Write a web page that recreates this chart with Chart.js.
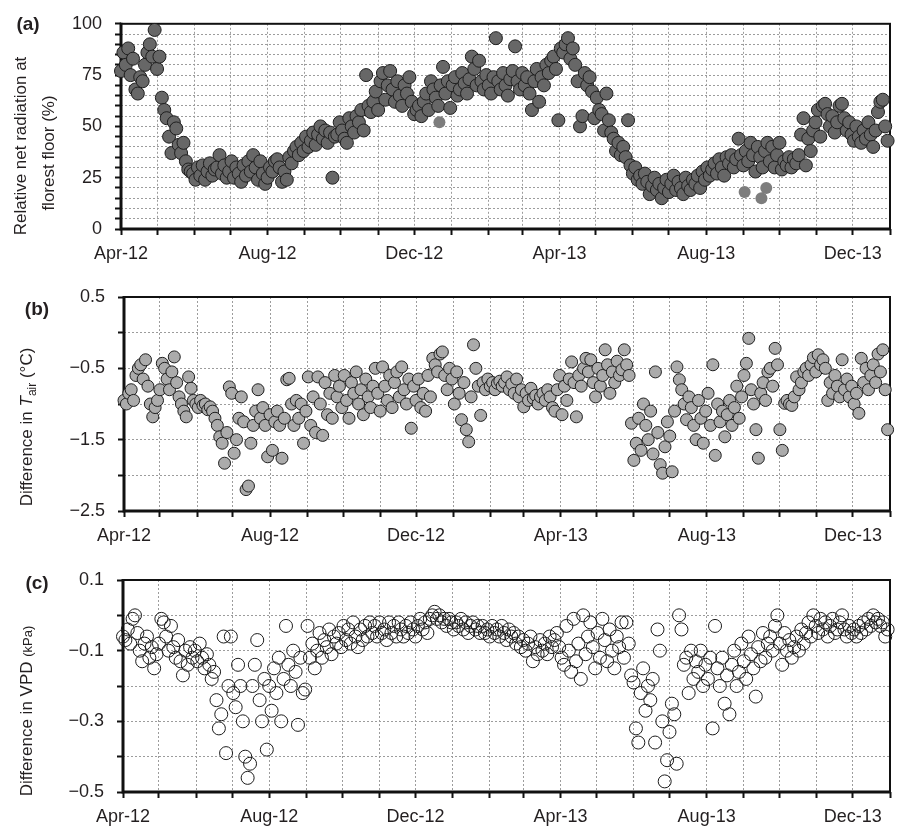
<!DOCTYPE html>
<html>
<head>
<meta charset="utf-8">
<script src="https://cdn.jsdelivr.net/npm/chart.js@4.4.0/dist/chart.umd.min.js"></script>
<style>
  body { margin: 0; background: #fff; width: 901px; height: 831px; position: relative; overflow: hidden; }
  canvas { position: absolute; left: 0; }
</style>
</head>
<body>
<canvas id="chartA" width="901" height="272" style="top:0px"></canvas>
<canvas id="chartB" width="901" height="278" style="top:272px"></canvas>
<canvas id="chartC" width="901" height="281" style="top:550px"></canvas>
<script>
// daily series sampled every 2 days from 1 Apr 2012
const startDate = Date.UTC(2012, 3, 1);
const stepDays = 2;
const monthNames = ['Jan', 'Feb', 'Mar', 'Apr', 'May', 'Jun', 'Jul', 'Aug', 'Sep', 'Oct', 'Nov', 'Dec'];
const xTickLabels = ['Apr-12', 'Aug-12', 'Dec-12', 'Apr-13', 'Aug-13', 'Dec-13'];

const radTickLabels = [0, 25, 50, 75, 100];
const tairTickLabels = [0.5, -0.5, -1.5, -2.5];
const vpdTickLabels = [0.1, -0.1, -0.3, -0.5];

// (a) relative net radiation at forest floor (%)
const radiation = [
  77, 86, 80, 88, 75, 83, 68, 66, 74, 72, 80, 86, 90, 84, 97,
  78, 84, 64, 58, 54, 45, 37, 52, 49, 41, 37, 42, 33, 29, 28,
  27, 24, 30, 26, 31, 24, 28, 32, 26, 29, 30, 36, 27, 31, 25,
  28, 33, 25, 30, 27, 23, 31, 26, 33, 28, 36, 30, 24, 33, 27,
  22, 25, 30, 28, 33, 34, 30, 23, 28, 24, 35, 32, 38, 40, 36,
  42, 38, 45, 40, 43, 47, 41, 46, 50, 44, 48, 42, 47, 25, 45,
  46, 52, 48, 44, 42, 54, 50, 47, 55, 52, 58, 48, 75, 60, 57,
  62, 67, 58, 72, 76, 63, 70, 77, 68, 62, 72, 65, 60, 70, 66,
  74, 62, 56, 58, 60, 55, 62, 66, 58, 72, 68, 64, 60, 70, 79,
  66, 72, 59, 70, 74, 65, 68, 76, 71, 66, 73, 84, 78, 70, 82,
  72, 68, 75, 70, 66, 74, 93, 72, 68, 76, 70, 65, 73, 77, 89,
  72, 68, 76, 70, 74, 66, 58, 72, 78, 62, 74, 70, 80, 76, 82,
  84, 78, 53, 88, 86, 90, 93, 83, 88, 80, 72, 50, 55, 76, 70,
  74, 67, 54, 64, 58, 56, 48, 66, 53, 47, 44, 38, 42, 36, 40,
  35, 53, 31, 27, 30, 24, 26, 22, 27, 23, 17, 21, 25, 19, 22,
  15, 20, 24, 18, 22, 26, 19, 23, 20, 17, 25, 21, 19, 24, 22,
  26, 20, 28, 24, 30, 26, 29, 32, 27, 34, 30, 26, 35, 32, 36,
  30, 34, 44, 36, 31, 38, 33, 42, 36, 28, 40, 35, 30, 38, 42,
  33, 40, 30, 36, 42, 29, 33, 31, 35, 30, 34, 32, 36, 46, 54,
  31, 44, 38, 48, 52, 58, 45, 60, 61, 56, 50, 55, 47, 52, 60,
  61, 54, 48, 52, 46, 43, 50, 45, 42, 48, 44, 52, 46, 40, 48, 57, 62, 63, 50, 43
];
// lighter points in (a): day offsets and values
const radiationLightDays = [265, 519, 533, 537];
const radiationLight = [52, 18, 15, 20];

// (b) difference in air temperature (°C)
const tairDiff = [
  -0.95, -1.0, -0.85, -0.8, -0.95, -0.6, -0.5, -0.45, -0.65, -0.38, -0.75, -1.0, -1.18, -1.05, -0.95,
  -0.8, -0.43, -0.5, -0.65, -0.8, -0.55, -0.34, -0.7, -0.9, -1.0, -1.1, -1.18, -0.62, -0.78, -0.95,
  -1.0, -1.05, -0.95, -1.02, -1.0, -1.08, -1.04, -1.1, -1.2, -1.3, -1.46, -1.55, -1.83, -1.4, -0.76,
  -0.85, -1.69, -1.5, -1.2, -0.9, -1.25, -2.2, -2.15, -1.55, -1.3, -1.1, -0.8, -1.2, -1.05, -1.3,
  -1.74, -1.15, -1.65, -1.25, -1.1, -1.3, -1.76, -1.2, -0.66, -0.64, -1.0, -1.3, -0.95, -1.2, -1.0,
  -1.55, -1.1, -0.62, -1.3, -0.9, -1.4, -0.62, -1.0, -1.44, -0.7, -1.15, -0.85, -1.2, -0.6, -0.9,
  -0.75, -1.05, -0.6, -0.95, -1.2, -0.7, -0.85, -0.55, -1.0, -0.8, -1.15, -0.65, -0.9, -1.05, -0.75,
  -0.5, -0.85, -1.1, -0.48, -0.75, -0.95, -0.6, -1.05, -0.7, -0.55, -0.9, -0.48, -0.8, -1.0, -0.65,
  -1.34, -0.75, -0.95, -0.65, -1.05, -0.85, -1.1, -0.6, -0.9, -0.36, -0.45, -0.55, -0.3, -0.27, -0.6,
  -0.8, -0.5, -0.65, -1.0, -0.55, -0.85, -1.22, -0.7, -1.36, -1.53, -0.9, -0.17, -0.5, -0.75, -1.16,
  -0.7, -0.8, -0.65, -0.75, -0.7, -0.8, -0.71, -0.68, -0.75, -0.7, -0.62, -0.8, -0.72, -0.85, -0.65,
  -0.9, -0.8, -1.04, -0.85, -0.95, -0.78, -0.92, -0.88, -1.0, -0.9, -0.85, -0.95, -0.8, -0.9, -1.05,
  -1.1, -0.8, -0.6, -1.15, -0.75, -0.95, -0.65, -0.41, -0.7, -1.18, -0.6, -0.75, -0.5, -0.36, -0.55,
  -0.38, -0.7, -0.9, -0.5, -0.75, -0.6, -0.24, -0.45, -0.85, -0.55, -0.7, -0.4, -0.6, -0.52, -0.24,
  -0.45, -0.6, -1.27, -1.79, -1.55, -1.2, -1.65, -1.0, -1.3, -1.5, -1.1, -1.7, -0.55, -1.4, -1.85,
  -1.97, -1.6, -1.25, -1.45, -1.95, -1.1, -0.48, -0.66, -0.8, -1.0, -1.22, -0.9, -1.05, -1.3, -1.5,
  -0.95, -1.2, -1.55, -1.1, -0.85, -1.3, -0.45, -1.72, -1.0, -1.25, -1.1, -1.46, -1.15, -0.95, -1.3,
  -1.05, -0.75, -1.2, -0.9, -0.6, -0.43, -0.08, -0.8, -1.0, -1.36, -1.76, -0.85, -0.7, -0.95, -0.55,
  -0.5, -0.75, -0.22, -0.45, -1.36, -1.65, -0.99, -0.95, -1.0, -1.02, -0.9, -0.62, -0.8, -0.7, -0.55,
  -0.5, -0.6, -0.45, -0.35, -0.55, -0.31, -0.45, -0.38, -0.5, -0.95, -0.7, -0.85, -0.6, -0.75, -0.9,
  -0.38, -0.8, -0.65, -0.9, -0.75, -1.0, -0.85, -1.13, -0.36, -0.7, -0.5, -0.8, -0.6, -0.45, -0.7, -0.3, -0.55, -0.24, -0.8, -1.36
];

// (c) difference in vapour pressure deficit (kPa)
const vpdDiff = [
  -0.06, -0.07, -0.04, -0.08, -0.01, 0.0, -0.05, -0.1, -0.13, -0.08, -0.06, -0.12, -0.09, -0.15, -0.11,
  -0.08, -0.01, -0.02, -0.06, -0.1, -0.03, -0.09, -0.12, -0.07, -0.13, -0.17, -0.1, -0.14, -0.09, -0.12,
  -0.1, -0.13, -0.08, -0.12, -0.15, -0.11, -0.14, -0.18, -0.16, -0.24, -0.32, -0.28, -0.06, -0.39, -0.2,
  -0.06, -0.22, -0.26, -0.14, -0.2, -0.3, -0.4, -0.46, -0.42, -0.2, -0.14, -0.07, -0.24, -0.3, -0.18,
  -0.38, -0.2, -0.27, -0.15, -0.22, -0.12, -0.3, -0.18, -0.03, -0.14, -0.2, -0.1, -0.16, -0.31, -0.12,
  -0.22, -0.21, -0.03, -0.12, -0.08, -0.15, -0.1, -0.05, -0.12, -0.07, -0.09, -0.04, -0.11, -0.06, -0.08,
  -0.05, -0.09, -0.03, -0.07, -0.04, -0.08, -0.02, -0.06, -0.09, -0.04, -0.07, -0.03, -0.06, -0.02, -0.05,
  -0.03, -0.06, -0.02, -0.05, -0.04, -0.07, -0.02, -0.05, -0.03, -0.06, -0.02, -0.04, -0.06, -0.03, -0.05,
  -0.02, -0.04, -0.06, -0.03, -0.01, -0.04, -0.02, -0.05, -0.01, 0.0, 0.01, -0.01, 0.0, -0.02, -0.01,
  -0.03, -0.01, -0.02, -0.04, -0.02, -0.03, -0.01, -0.04, -0.02, -0.05, -0.03, -0.02, -0.04, -0.03, -0.05,
  -0.03, -0.05, -0.04, -0.06, -0.03, -0.05, -0.04, -0.06, -0.03, -0.05, -0.07, -0.04, -0.06, -0.05, -0.08,
  -0.06, -0.09, -0.07, -0.1, -0.08, -0.06, -0.13, -0.09, -0.11, -0.07, -0.1, -0.08, -0.11, -0.06, -0.09,
  -0.07, -0.05, -0.09, -0.12, -0.14, -0.03, -0.1, -0.16, -0.01, -0.13, -0.08, -0.18, 0.0, -0.11, -0.06,
  -0.02, -0.09, -0.15, -0.05, -0.12, -0.01, -0.07, -0.13, -0.04, -0.1, -0.15, -0.06, -0.09, -0.02, -0.12,
  -0.02, -0.08, -0.17, -0.19, -0.32, -0.36, -0.22, -0.15, -0.27, -0.2, -0.24, -0.18, -0.36, -0.04, -0.1,
  -0.3, -0.47, -0.41, -0.33, -0.25, -0.28, -0.42, 0.0, -0.04, -0.14, -0.12, -0.22, -0.1, -0.18, -0.13,
  -0.16, -0.1, -0.2, -0.14, -0.18, -0.12, -0.32, -0.03, -0.15, -0.2, -0.12, -0.25, -0.17, -0.28, -0.14,
  -0.1, -0.2, -0.16, -0.08, -0.13, -0.18, -0.06, -0.11, -0.15, -0.23, -0.09, -0.13, -0.05, -0.12, -0.08,
  -0.06, -0.1, -0.03, 0.0, -0.08, -0.14, -0.05, -0.1, -0.07, -0.12, -0.09, -0.06, -0.1, -0.04, -0.08,
  -0.05, -0.02, -0.06, 0.0, -0.03, -0.05, -0.01, -0.04, -0.02, -0.06, -0.03, -0.01, -0.05, -0.04, -0.02,
  0.0, -0.04, -0.06, -0.03, -0.05, -0.04, -0.06, -0.03, -0.05, -0.02, -0.04, -0.01, -0.03, 0.0, -0.02, -0.01, -0.03, -0.02, -0.06, -0.04
];

const FONT = "'Liberation Sans', Arial, Helvetica, sans-serif";
const TEXT = '#231f20';
const DAY = 86400000;

// month-start positions (days since start) for the x grid
const monthTicks = [];
for (let m = 0; m <= 21; m++) {
  const d = new Date(Date.UTC(2012, 3 + m, 1));
  const label = monthNames[d.getUTCMonth()] + '-' + String(d.getUTCFullYear()).slice(2);
  monthTicks.push({ value: (d - startDate) / DAY, label: label });
}
const xMax = monthTicks[monthTicks.length - 1].value;

function toPoints(values) {
  return values.map((v, i) => ({ x: i * stepDays, y: v }));
}

function fmt(v) {
  const s = String(Math.abs(v));
  return v < 0 ? '\u2212' + s : s;
}

function drawRich(ctx, cx, cy, parts) {
  ctx.save();
  ctx.translate(cx, cy);
  ctx.rotate(-Math.PI / 2);
  let total = 0;
  parts.forEach(p => { ctx.font = p.font; p.w = ctx.measureText(p.text).width; total += p.w; });
  let x = -total / 2;
  ctx.fillStyle = TEXT;
  ctx.textBaseline = 'alphabetic';
  parts.forEach(p => { ctx.font = p.font; ctx.fillText(p.text, x, p.dy || 0); x += p.w; });
  ctx.restore();
}

function framePlugin(letter, lx, ly, titleFn) {
  return {
    id: 'frame',
    beforeDatasetsDraw(chart) {
      const { ctx, chartArea: { left, right, top, bottom } } = chart;
      ctx.save();
      ctx.strokeStyle = '#111';
      ctx.lineWidth = 2;
      ctx.strokeRect(left, top, right - left, bottom - top);
      ctx.lineWidth = 3;
      ctx.beginPath();
      ctx.moveTo(left, top - 1);
      ctx.lineTo(left, bottom);
      ctx.lineTo(right + 1, bottom);
      ctx.stroke();
      ctx.restore();
    },
    afterDraw(chart) {
      const ctx = chart.ctx;
      ctx.save();
      ctx.fillStyle = TEXT;
      ctx.font = 'bold 19px ' + FONT;
      ctx.textAlign = 'center';
      ctx.textBaseline = 'middle';
      ctx.fillText(letter, lx, ly);
      ctx.restore();
      titleFn(ctx);
    }
  };
}

function makePanel(id, cfg) {
  const yTicks = [];
  for (let v = cfg.yMin; v <= cfg.yMax + 1e-9; v += cfg.yStep) yTicks.push(Math.round(v * 1000) / 1000);
  new Chart(document.getElementById(id), {
    type: 'scatter',
    data: { datasets: cfg.datasets },
    options: {
      responsive: false,
      animation: false,
      layout: { padding: { top: cfg.padTop, right: 11, bottom: 0, left: 0 } },
      plugins: { legend: { display: false }, tooltip: { enabled: false } },
      scales: {
        x: {
          type: 'linear',
          min: 0,
          max: xMax,
          afterBuildTicks: s => { s.ticks = monthTicks.map(t => ({ value: t.value })); },
          afterFit: s => { s.height = cfg.xHeight; },
          ticks: {
            autoSkip: false,
            maxRotation: 0,
            padding: 8,
            color: TEXT,
            font: { family: FONT, size: 18 },
            callback: v => {
              const t = monthTicks.find(m => m.value === v);
              return t && xTickLabels.includes(t.label) ? t.label : '';
            }
          },
          grid: { color: '#9c9c9c', lineWidth: 1, tickLength: 6, tickColor: '#111', tickWidth: 2 },
          border: { display: false, dash: [2, 2] }
        },
        y: {
          min: cfg.yMin,
          max: cfg.yMax,
          afterBuildTicks: s => { s.ticks = yTicks.map(v => ({ value: v })); },
          afterFit: s => { s.width = cfg.left; },
          ticks: {
            autoSkip: false,
            padding: 13,
            color: TEXT,
            font: { family: FONT, size: 18 },
            callback: v => {
              const r = Math.round(v * 1000) / 1000;
              return cfg.yLabels.includes(r) ? fmt(r) : '';
            }
          },
          grid: { color: '#9c9c9c', lineWidth: 1, tickLength: 6, tickColor: '#111', tickWidth: 2 },
          border: { display: false, dash: [2, 2] }
        }
      }
    },
    plugins: [framePlugin(cfg.letter, cfg.lx, cfg.ly, cfg.title)]
  });
}

// (a)
makePanel('chartA', {
  yMin: 0, yMax: 100, yStep: 5, yLabels: radTickLabels,
  left: 121, padTop: 16, xHeight: 43,
  letter: '(a)', lx: 28, ly: 25,
  title: ctx => {
    drawRich(ctx, 26, 146, [{ text: 'Relative net radiation at', font: '17px ' + FONT }]);
    drawRich(ctx, 54, 153, [{ text: 'florest floor (%)', font: '17px ' + FONT }]);
  },
  datasets: [
    {
      data: toPoints(radiation),
      pointRadius: 6.5,
      pointBackgroundColor: '#676767',
      pointBorderColor: '#1e1e1e',
      pointBorderWidth: 1,
      clip: false
    },
    {
      data: radiationLightDays.map((d, i) => ({ x: d, y: radiationLight[i] })),
      pointRadius: 6,
      pointBackgroundColor: '#7d7d7d',
      pointBorderColor: '#7d7d7d',
      pointBorderWidth: 0,
      clip: false
    }
  ]
});

// (b)
makePanel('chartB', {
  yMin: -2.5, yMax: 0.5, yStep: 0.5, yLabels: tairTickLabels,
  left: 124, padTop: 25, xHeight: 39,
  letter: '(b)', lx: 37, ly: 38,
  title: ctx => {
    drawRich(ctx, 32, 155, [
      { text: 'Difference in ', font: '17px ' + FONT },
      { text: 'T', font: 'italic 17px ' + FONT },
      { text: 'air', font: '12px ' + FONT, dy: 4 },
      { text: ' (\u00b0C)', font: '17px ' + FONT }
    ]);
  },
  datasets: [
    {
      data: toPoints(tairDiff),
      pointRadius: 6,
      pointBackgroundColor: '#ababab',
      pointBorderColor: '#1e1e1e',
      pointBorderWidth: 1,
      clip: false
    }
  ]
});

// (c)
makePanel('chartC', {
  yMin: -0.5, yMax: 0.1, yStep: 0.1, yLabels: vpdTickLabels,
  left: 123, padTop: 30, xHeight: 39,
  letter: '(c)', lx: 37, ly: 34,
  title: ctx => {
    drawRich(ctx, 32, 161, [
      { text: 'Difference in VPD ', font: '17px ' + FONT },
      { text: '(kPa)', font: '13px ' + FONT }
    ]);
  },
  datasets: [
    {
      data: toPoints(vpdDiff),
      pointRadius: 6.5,
      pointBackgroundColor: 'rgba(0,0,0,0)',
      pointBorderColor: '#1a1a1a',
      pointBorderWidth: 1,
      clip: false
    }
  ]
});
</script>
</body>
</html>
